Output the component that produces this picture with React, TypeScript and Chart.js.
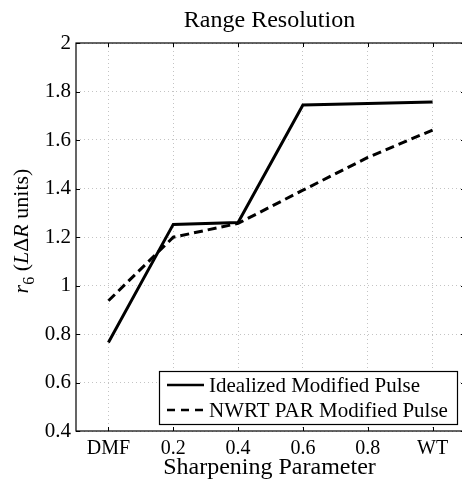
import React, { useEffect, useRef } from "react";
import { Chart, registerables } from "chart.js";

Chart.register(...registerables);

const categories = ["DMF", "0.2", "0.4", "0.6", "0.8", "WT"];
const idealized = [0.765, 1.252, 1.26, 1.744, 1.751, 1.757];
const nwrtPar = [0.937, 1.199, 1.256, 1.393, 1.528, 1.641];
const seriesLabels = ["Idealized Modified Pulse", "NWRT PAR Modified Pulse"];
const titleText = "Range Resolution";
const xTitle = "Sharpening Parameter";
const yMin = 0.4;
const yMax = 2;
const yStep = 0.2;

const FONT = "'Liberation Serif', 'Times New Roman', serif";

const decorPlugin = {
  id: "decor",
  afterDraw(chart: any) {
    const ctx = chart.ctx;
    const a = chart.chartArea;
    const xs = chart.scales.x;
    const ys = chart.scales.y;
    ctx.save();
    // axes box
    ctx.strokeStyle = "#000";
    ctx.lineWidth = 1.2;
    ctx.setLineDash([]);
    ctx.strokeRect(a.left, a.top, a.right - a.left, a.bottom - a.top);
    // ticks inward
    const tl = 4;
    ctx.lineWidth = 1;
    ctx.beginPath();
    xs.ticks.forEach((_t: any, i: number) => {
      const px = Math.round(xs.getPixelForTick(i)) + 0.5;
      ctx.moveTo(px, a.bottom);
      ctx.lineTo(px, a.bottom - tl);
      ctx.moveTo(px, a.top);
      ctx.lineTo(px, a.top + tl);
    });
    ys.ticks.forEach((t: any) => {
      const py = Math.round(ys.getPixelForValue(t.value)) + 0.5;
      ctx.moveTo(a.left, py);
      ctx.lineTo(a.left + tl, py);
      ctx.moveTo(a.right, py);
      ctx.lineTo(a.right - tl, py);
    });
    ctx.stroke();

    // title
    const cx = (a.left + a.right) / 2;
    ctx.fillStyle = "#000";
    ctx.textAlign = "center";
    ctx.textBaseline = "alphabetic";
    ctx.font = `24px ${FONT}`;
    ctx.fillText(titleText, cx - 1, 27);
    // x title
    ctx.fillText(xTitle, cx - 1, 474);

    // y title with mixed styles
    const segs = [
      { t: "r", f: `italic 22px ${FONT}`, dy: 0 },
      { t: "6", f: `16px ${FONT}`, dy: 6 },
      { t: " (", f: `22px ${FONT}`, dy: 0 },
      { t: "L", f: `italic 22px ${FONT}`, dy: 0 },
      { t: "\u0394", f: `22px ${FONT}`, dy: 0 },
      { t: "R", f: `italic 22px ${FONT}`, dy: 0 },
      { t: " units)", f: `22px ${FONT}`, dy: 0 },
    ];
    let total = 0;
    segs.forEach((s) => {
      ctx.font = s.f;
      total += ctx.measureText(s.t).width;
    });
    ctx.save();
    ctx.translate(28, 231);
    ctx.rotate(-Math.PI / 2);
    ctx.textAlign = "left";
    let x = -total / 2;
    segs.forEach((s) => {
      ctx.font = s.f;
      ctx.fillText(s.t, x, s.dy);
      x += ctx.measureText(s.t).width;
    });
    ctx.restore();

    // legend
    const lx = 159, ly = 371, lw = 298, lh = 53;
    ctx.fillStyle = "#fff";
    ctx.fillRect(lx, ly, lw, lh);
    ctx.strokeStyle = "#000";
    ctx.lineWidth = 1.2;
    ctx.strokeRect(lx + 0.5, ly + 0.5, lw, lh);
    chart.data.datasets.forEach((ds: any, i: number) => {
      const ry = ly + 14 + i * 25;
      ctx.strokeStyle = ds.borderColor;
      ctx.lineWidth = 2.5;
      ctx.setLineDash(i === 1 ? [8, 6] : []);
      ctx.beginPath();
      ctx.moveTo(167, ry);
      ctx.lineTo(204, ry);
      ctx.stroke();
      ctx.setLineDash([]);
      ctx.fillStyle = "#000";
      ctx.font = `21px ${FONT}`;
      ctx.textAlign = "left";
      ctx.textBaseline = "middle";
      ctx.fillText(ds.label, 209, ry + 1);
    });
    ctx.restore();
  },
};

export default function App() {
  const ref = useRef<HTMLCanvasElement | null>(null);
  useEffect(() => {
    if (!ref.current) return;
    const chart = new Chart(ref.current, {
      type: "line",
      data: {
        labels: categories,
        datasets: [
          {
            label: seriesLabels[0],
            data: idealized,
            borderColor: "#000",
            borderWidth: 3,
            pointRadius: 0,
            tension: 0,
            fill: false,
          },
          {
            label: seriesLabels[1],
            data: nwrtPar,
            borderColor: "#000",
            borderWidth: 3,
            borderDash: [9, 5],
            pointRadius: 0,
            tension: 0,
            fill: false,
          },
        ],
      },
      options: {
        responsive: false,
        animation: false,
        devicePixelRatio: 1,
        layout: { padding: { left: 0, right: 5, top: 43, bottom: 0 } },
        plugins: { legend: { display: false }, tooltip: { enabled: false }, title: { display: false } },
        scales: {
          x: {
            type: "category",
            offset: true,
            afterFit: (s: any) => {
              s.height = 52;
            },
            grid: { offset: false, color: "#c4c4c4", lineWidth: 1, drawTicks: false, tickLength: 0 },
            border: { display: false, dash: [1, 3] },
            ticks: { color: "#000", font: { family: FONT, size: 20 }, padding: 6, maxRotation: 0, autoSkip: false },
          },
          y: {
            min: yMin,
            max: yMax,
            afterFit: (s: any) => {
              s.width = 76;
            },
            grid: { color: "#c4c4c4", lineWidth: 1, drawTicks: false, tickLength: 0 },
            border: { display: false, dash: [1, 3] },
            ticks: {
              stepSize: yStep,
              color: "#000",
              font: { family: FONT, size: 21 },
              padding: 5,
              callback: (v: any) => String(Math.round(Number(v) * 10) / 10),
            },
          },
        },
      },
      plugins: [decorPlugin],
    });
    return () => chart.destroy();
  }, []);
  return (
    <div style={{ position: "fixed", left: 0, top: 0, width: 462, height: 483, overflow: "hidden", background: "#fff" }}>
      <canvas ref={ref} width={470} height={483} style={{ display: "block" }} />
    </div>
  );
}
